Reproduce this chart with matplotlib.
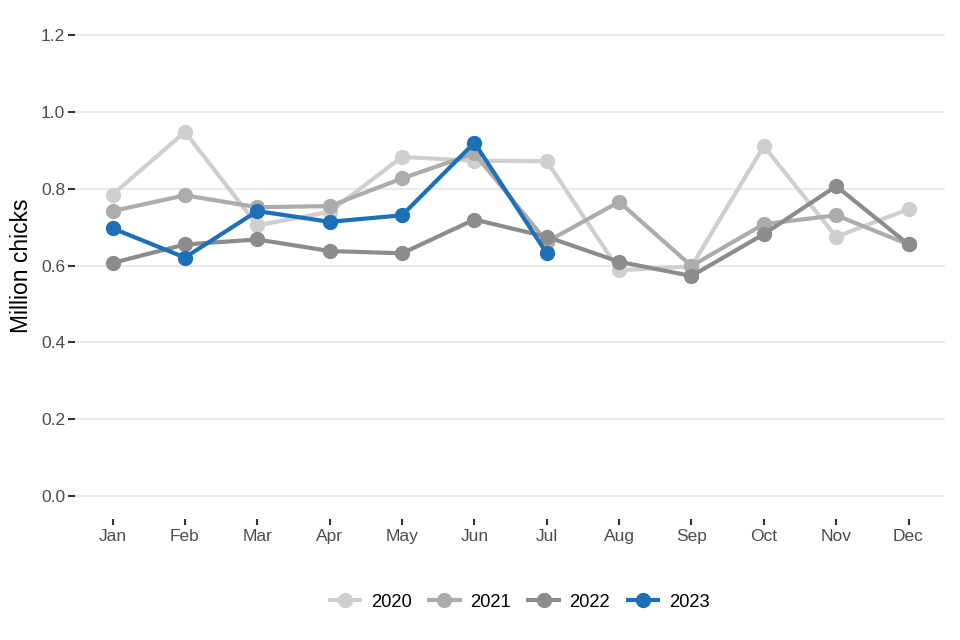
import matplotlib
matplotlib.use('Agg')
import matplotlib.pyplot as plt

plt.rcParams['font.family'] = ['Liberation Sans', 'DejaVu Sans']

months = ['Jan', 'Feb', 'Mar', 'Apr', 'May', 'Jun', 'Jul', 'Aug', 'Sep', 'Oct', 'Nov', 'Dec']
years = ['2020', '2021', '2022', '2023']

chicks_2020 = [0.785, 0.948, 0.705, 0.740, 0.883, 0.873, 0.872, 0.588, 0.598, 0.911, 0.675, 0.747]
chicks_2021 = [0.742, 0.783, 0.752, 0.755, 0.827, 0.892, 0.662, 0.766, 0.599, 0.708, 0.731, 0.655]
chicks_2022 = [0.607, 0.655, 0.668, 0.638, 0.632, 0.720, 0.675, 0.610, 0.573, 0.682, 0.807, 0.655]
chicks_2023 = [0.697, 0.621, 0.742, 0.714, 0.731, 0.920, 0.632]

series = [chicks_2020, chicks_2021, chicks_2022, chicks_2023]
colours = ['#d0cfcf', '#aeabab', '#8e8b8b', '#1d70b8']

fig = plt.figure(figsize=(9.6, 6.4), dpi=100)
ax = fig.add_axes([0.0781, 0.189, 0.906, 0.792])

for yr, vals, col in zip(years, series, colours):
    x = list(range(len(vals)))
    ax.plot(x, vals, color=col, linewidth=3, marker='o', markersize=10,
            solid_capstyle='butt', label=yr, zorder=3)

ax.set_xlim(-0.52, 11.5)
ax.set_ylim(-0.06, 1.26)
ax.set_xticks(range(len(months)))
ax.set_xticklabels(months)
ax.set_yticks([0, 0.2, 0.4, 0.6, 0.8, 1.0, 1.2])
ax.set_yticklabels(['0.0', '0.2', '0.4', '0.6', '0.8', '1.0', '1.2'])

ax.grid(axis='y', color='#ebebeb', linewidth=1.5, zorder=0)
ax.grid(axis='x', visible=False)
for s in ax.spines.values():
    s.set_visible(False)
ax.tick_params(axis='y', length=5, width=1.5, color='#333333', labelcolor='#4d4d4d',
               labelsize=12.5, pad=2)
ax.tick_params(axis='x', length=4, width=1.5, color='#333333', labelcolor='#4d4d4d',
               labelsize=12.5, pad=3)
ax.set_ylabel('Million chicks', fontsize=16.5, color='black', labelpad=6)

leg = fig.legend(loc='lower center', bbox_to_anchor=(0.54, 0.02), ncol=4, frameon=False,
                 fontsize=13.2, handlelength=1.9, columnspacing=0.85, handletextpad=0.45)

plt.savefig('out.png', dpi=100)
plt.close()
